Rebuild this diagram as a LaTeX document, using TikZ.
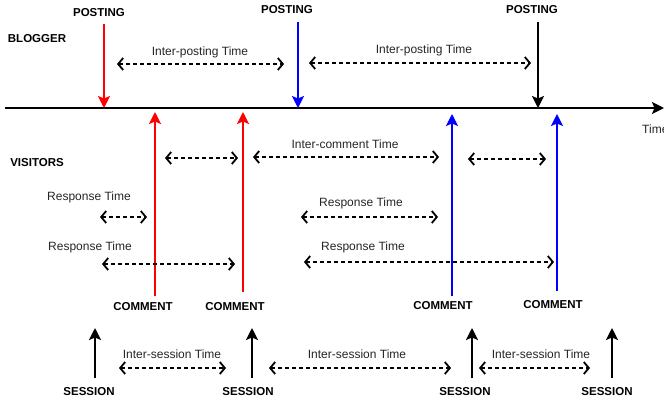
\documentclass[tikz,border=0pt]{standalone}
\usepackage{fontspec}
\setmainfont{Liberation Sans}
\usetikzlibrary{arrows.meta}
\begin{document}
\begin{tikzpicture}[x=1pt,y=-1pt,
  lbl/.style={font=\fontsize{11.5}{13}\selectfont\bfseries, inner sep=0},
  txt/.style={font=\fontsize{12}{14}\selectfont, inner sep=0, text=black!85},
  ev/.style={line width=2pt, -{Stealth[length=12pt,width=12pt,inset=2.5pt]}},
  span/.style={line width=1.8pt, dash pattern=on 4pt off 3pt,
    {Straight Barb[length=5pt,width=12pt]}-{Straight Barb[length=5pt,width=12pt]}}]
\useasboundingbox (0,0) rectangle (664,402);
\fill[white] (0,0) rectangle (664,402);

% timeline
\coordinate (t0) at (5,108);
\coordinate (t1) at (664,108);
\draw[ev] (t0) -- (t1);
\node[txt, anchor=west] (time) at (642,129) {Time};

% blogger
\node[lbl] (blogger) at (37,39) {BLOGGER};
\node[lbl] (p1) at (99,13) {POSTING};
\node[lbl] (p2) at (287,10) {POSTING};
\node[lbl] (p3) at (532,10) {POSTING};
\coordinate (p1s) at (104,24); \coordinate (p1e) at (104,108);
\coordinate (p2s) at (298,22); \coordinate (p2e) at (298,108);
\coordinate (p3s) at (538,22); \coordinate (p3e) at (538,108);
\draw[ev, red] (p1s) -- (p1e);
\draw[ev, blue] (p2s) -- (p2e);
\draw[ev, black] (p3s) -- (p3e);

\node[txt] (ip1) at (200,52) {Inter-posting Time};
\coordinate (ip1a) at (117,64); \coordinate (ip1b) at (284,64);
\draw[span] (ip1a) -- (ip1b);
\node[txt] (ip2) at (424,50) {Inter-posting Time};
\coordinate (ip2a) at (309,63); \coordinate (ip2b) at (531,63);
\draw[span] (ip2a) -- (ip2b);

% visitors
\node[lbl] (visitors) at (37,163) {VISITORS};
\coordinate (c1s) at (155,296); \coordinate (c1e) at (155,112);
\coordinate (c2s) at (243,292); \coordinate (c2e) at (243,112);
\coordinate (c3s) at (452,296); \coordinate (c3e) at (452,114);
\coordinate (c4s) at (557,291); \coordinate (c4e) at (557,114);
\draw[ev, red] (c1s) -- (c1e);
\draw[ev, red] (c2s) -- (c2e);
\draw[ev, blue] (c3s) -- (c3e);
\draw[ev, blue] (c4s) -- (c4e);
\node[lbl] (cm1) at (143,307) {COMMENT};
\node[lbl] (cm2) at (235,307) {COMMENT};
\node[lbl] (cm3) at (443,306) {COMMENT};
\node[lbl] (cm4) at (553,305) {COMMENT};

% inter-comment
\coordinate (ic1a) at (165,158); \coordinate (ic1b) at (238,158);
\coordinate (ic2a) at (253,157); \coordinate (ic2b) at (439,157);
\coordinate (ic3a) at (468,159); \coordinate (ic3b) at (546,159);
\draw[span] (ic1a) -- (ic1b);
\draw[span] (ic2a) -- (ic2b);
\draw[span] (ic3a) -- (ic3b);
\node[txt] (ict) at (345,144) {Inter-comment Time};

% response
\node[txt] (r1) at (89,197) {Response Time};
\coordinate (r1a) at (100,217); \coordinate (r1b) at (147,217);
\draw[span] (r1a) -- (r1b);
\node[txt] (r2) at (90,247) {Response Time};
\coordinate (r2a) at (102,264); \coordinate (r2b) at (235,264);
\draw[span] (r2a) -- (r2b);
\node[txt] (r3) at (361,203) {Response Time};
\coordinate (r3a) at (301,217); \coordinate (r3b) at (438,217);
\draw[span] (r3a) -- (r3b);
\node[txt] (r4) at (363,247) {Response Time};
\coordinate (r4a) at (304,262); \coordinate (r4b) at (554,262);
\draw[span] (r4a) -- (r4b);

% sessions
\coordinate (s1s) at (95,378); \coordinate (s1e) at (95,328);
\coordinate (s2s) at (252,378); \coordinate (s2e) at (252,328);
\coordinate (s3s) at (472,378); \coordinate (s3e) at (472,328);
\coordinate (s4s) at (612,378); \coordinate (s4e) at (612,328);
\draw[ev] (s1s) -- (s1e);
\draw[ev] (s2s) -- (s2e);
\draw[ev] (s3s) -- (s3e);
\draw[ev] (s4s) -- (s4e);
\node[lbl] (se1) at (89,392) {SESSION};
\node[lbl] (se2) at (248,392) {SESSION};
\node[lbl] (se3) at (465,392) {SESSION};
\node[lbl] (se4) at (607,392) {SESSION};

\node[txt] (is1) at (172,354) {Inter-session Time};
\coordinate (is1a) at (119,368); \coordinate (is1b) at (226,368);
\draw[span] (is1a) -- (is1b);
\node[txt] (is2) at (357,354) {Inter-session Time};
\coordinate (is2a) at (269,368); \coordinate (is2b) at (451,368);
\draw[span] (is2a) -- (is2b);
\node[txt] (is3) at (541,354) {Inter-session Time};
\coordinate (is3a) at (479,368); \coordinate (is3b) at (590,368);
\draw[span] (is3a) -- (is3b);
\end{tikzpicture}
\end{document}
